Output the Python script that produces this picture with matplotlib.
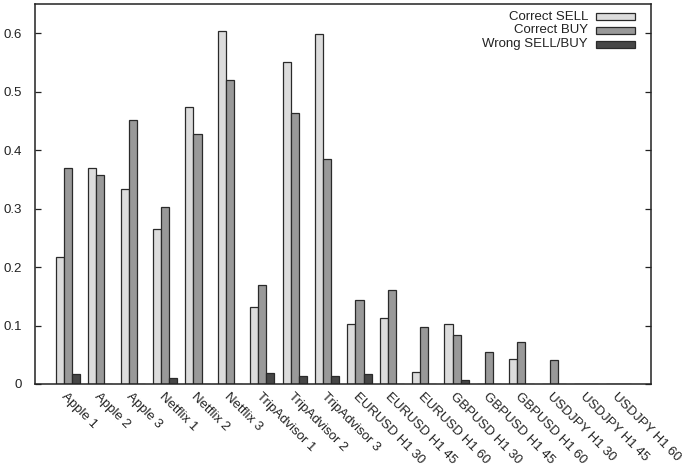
import matplotlib
matplotlib.use("Agg")
import matplotlib.pyplot as plt
from matplotlib.patches import Rectangle
import numpy as np

plt.rcParams['font.family'] = ['Liberation Sans', 'DejaVu Sans']

categories = ["Apple 1", "Apple 2", "Apple 3", "Netflix 1", "Netflix 2", "Netflix 3",
              "TripAdvisor 1", "TripAdvisor 2", "TripAdvisor 3",
              "EURUSD H1 30", "EURUSD H1 45", "EURUSD H1 60",
              "GBPUSD H1 30", "GBPUSD H1 45", "GBPUSD H1 60",
              "USDJPY H1 30", "USDJPY H1 45", "USDJPY H1 60"]

correct_sell = [0.217, 0.370, 0.333, 0.265, 0.474, 0.603,
                0.131, 0.551, 0.599,
                0.103, 0.113, 0.021,
                0.102, 0.0, 0.043,
                0.0, 0.0, 0.0]
correct_buy = [0.370, 0.357, 0.452, 0.303, 0.428, 0.520,
               0.169, 0.464, 0.385,
               0.144, 0.160, 0.097,
               0.083, 0.054, 0.072,
               0.041, 0.0, 0.0]
wrong = [0.017, 0.0, 0.0, 0.010, 0.0, 0.0,
         0.018, 0.013, 0.013,
         0.017, 0.0, 0.0,
         0.007, 0.0, 0.0,
         0.0, 0.0, 0.0]

series_names = ["Correct SELL", "Correct BUY", "Wrong SELL/BUY"]
colors = ["#dcdcdc", "#999999", "#474747"]
edge = "#2a2a2a"

fig = plt.figure(figsize=(6.85, 4.70), dpi=100)
ax = fig.add_axes([0.0518, 0.183, 0.8986, 0.8085])

x = np.arange(len(categories))
w = 0.25
for k, vals in enumerate([correct_sell, correct_buy, wrong]):
    ax.bar(x + (k - 1) * w, vals, width=w, color=colors[k], edgecolor=edge,
           linewidth=0.9, zorder=2)

ax.set_xlim(-1, len(categories))
ax.set_ylim(0, 0.65)

yt = [0, 0.1, 0.2, 0.3, 0.4, 0.5, 0.6]
ax.set_yticks(yt)
ax.set_yticklabels(["0", "0.1", "0.2", "0.3", "0.4", "0.5", "0.6"])
ax.tick_params(axis='y', direction='in', length=4.5, width=0.9, color='#222222',
               right=True, labelsize=9.5, pad=10, labelcolor='#222222')

ax.set_xticks(x)
ax.set_xticklabels(categories, rotation=-45, ha='left', va='top',
                   rotation_mode='anchor', fontsize=9.5, color='#222222')
ax.tick_params(axis='x', length=0, pad=5)

for s in ax.spines.values():
    s.set_linewidth(1.1)
    s.set_color('#222222')

# key in the upper right corner: right-aligned text with a swatch after it
fig_w, fig_h = 685, 470
ax_l, ax_b = 0.0518 * fig_w, 0.183 * fig_h
ax_w, ax_h = 0.8986 * fig_w, 0.8085 * fig_h
row_y_px = [16.7, 30.4, 44.0]
sw_x0, sw_x1 = 596, 635
sw_h = 7
text_x = 588
for name, c, yp in zip(series_names, colors, row_y_px):
    yf = (fig_h - yp - ax_b) / ax_h
    ax.text((text_x - ax_l) / ax_w, yf, name, transform=ax.transAxes,
            ha='right', va='center', fontsize=9.5, color='#222222')
    ax.add_patch(Rectangle(((sw_x0 - ax_l) / ax_w, yf - sw_h / 2 / ax_h),
                           (sw_x1 - sw_x0) / ax_w, sw_h / ax_h,
                           transform=ax.transAxes, facecolor=c, edgecolor=edge,
                           linewidth=0.9, clip_on=False))

fig.savefig("out.png", dpi=100)
